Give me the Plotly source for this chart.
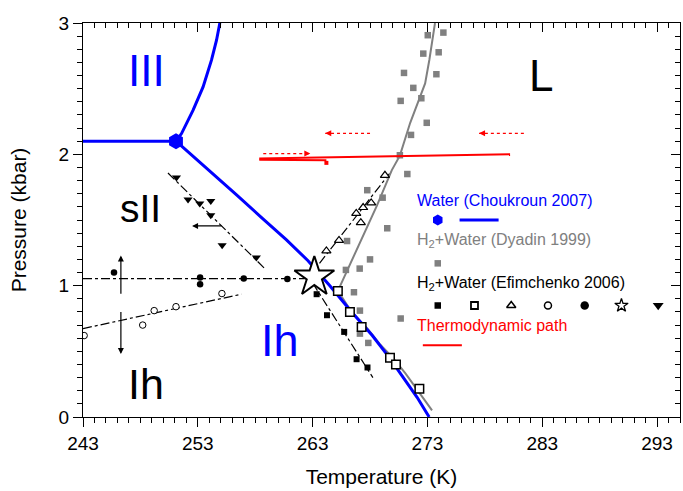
import plotly.graph_objects as go

FONT = "Liberation Sans, Arial, sans-serif"
BLUE = "#0000ff"
GRAY = "#808080"
RED = "#ff0000"

# ---------------- data ----------------
# Water (Choukroun 2007) phase boundaries
iii_sii_T = [243.0, 251.1]
iii_sii_P = [2.1, 2.1]
iii_l_T = [251.1, 251.58, 252.59, 253.46, 254.19, 254.63, 254.92]
iii_l_P = [2.1, 2.158, 2.336, 2.513, 2.717, 2.869, 3.0]
ih_l_T = [251.1, 254.1, 256.4, 258.6, 260.7, 262.6, 264.5, 266.4, 268.2, 269.7, 271.0, 272.1, 273.15]
ih_l_P = [2.1, 1.87, 1.69, 1.515, 1.35, 1.19, 1.0, 0.80, 0.62, 0.45, 0.29, 0.15, 0.0]
triple_T = [251.1]
triple_P = [2.1]

# H2+Water (Dyadin 1999)
dyadin_line_T = [273.4, 272.2, 271.1, 270.0, 268.9, 267.8, 266.4, 265.2, 266.4, 267.56, 268.6,
                 269.9, 270.6, 271.5, 272.3, 272.8, 273.17, 273.66]
dyadin_line_P = [0.05, 0.2, 0.33, 0.45, 0.55, 0.67, 0.8, 0.96, 1.19, 1.41, 1.61,
                 1.88, 1.99, 2.24, 2.43, 2.54, 2.72, 3.0]
dyadin_T = [273.03, 274.39, 272.64, 273.98, 270.96, 273.78, 271.77, 270.67, 272.47, 272.94,
            271.57, 270.6, 271.25, 267.76, 269.1, 269.5, 266.0, 268.0, 265.9, 267.1,
            266.6, 267.12, 270.67, 267.12, 267.85]
dyadin_P = [2.907, 2.927, 2.767, 2.777, 2.62, 2.61, 2.506, 2.407, 2.427, 2.24,
            2.148, 1.993, 1.85, 1.727, 1.67, 1.437, 1.34, 1.20, 1.12, 1.13,
            0.95, 0.81, 0.75, 0.635, 0.564]

# H2+Water (Efimchenko 2006)
fsq_T = [263.35, 264.25, 265.75, 266.83, 267.78]
fsq_P = [0.935, 0.775, 0.648, 0.44, 0.377]
fsq_fit_T = [263.0, 268.25]
fsq_fit_P = [1.02, 0.30]

osq_T = [265.2, 266.25, 267.27, 269.74, 270.26, 272.3]
osq_P = [0.96, 0.80, 0.685, 0.452, 0.40, 0.216]

otri_T = [264.2, 265.3, 266.8, 267.2, 267.4, 268.1, 269.3]
otri_P = [1.265, 1.345, 1.55, 1.48, 1.595, 1.63, 1.84]
otri_fit_T = [263.6, 269.7]
otri_fit_P = [1.17, 1.854]

ocirc_T = [243.1, 248.2, 249.2, 251.1, 255.1]
ocirc_P = [0.62, 0.70, 0.81, 0.84, 0.94]
ocirc_fit_T = [243.0, 256.8]
ocirc_fit_P = [0.673, 0.935]

fcirc_T = [245.7, 253.2, 253.2, 257.0, 260.8]
fcirc_P = [1.10, 1.062, 1.01, 1.054, 1.05]
fcirc_fit_T = [243.0, 262.3]
fcirc_fit_P = [1.054, 1.054]

dtri_T = [251.14, 252.15, 253.17, 254.13, 254.13, 255.12, 258.1]
dtri_P = [1.823, 1.656, 1.625, 1.645, 1.536, 1.308, 1.214]
dtri_fit_T = [250.4, 258.93]
dtri_fit_P = [1.858, 1.122]

star_T = [263.15]
star_P = [1.066]

# Thermodynamic path (red)
path_T = [258.35, 280.2]
path_P = [1.968, 2.0]
path2_T = [258.35, 264.2]
path2_P = [1.958, 1.955]
path_mark_T = [264.2]
path_mark_P = [1.935]
# dotted red arrows: (tail T, head T, P)
red_arrows = [(258.7, 262.8, 2.006), (268.0, 264.1, 2.16), (281.4, 277.5, 2.16)]
# black arrows: (tail T, tail P, head T, head P)
black_arrows = [(255.2, 1.455, 252.5, 1.455), (246.3, 0.927, 246.3, 1.23), (246.3, 0.81, 246.3, 0.48)]

# axis ticks
x_ticks = [243, 253, 263, 273, 283, 293]
y_ticks = [0, 1, 2, 3]

fig = go.Figure()


def add_line(T, P, color, width, dash="solid"):
    fig.add_trace(go.Scatter(x=T, y=P, mode="lines", line=dict(color=color, width=width, dash=dash),
                             showlegend=False, hoverinfo="skip"))


def add_markers(T, P, symbol, size, color, lcolor="black", lwidth=0):
    fig.add_trace(go.Scatter(x=T, y=P, mode="markers",
                             marker=dict(symbol=symbol, size=size, color=color,
                                         line=dict(color=lcolor, width=lwidth)),
                             showlegend=False, hoverinfo="skip"))


# fitted dash-dot lines
for T, P in [(fsq_fit_T, fsq_fit_P), (otri_fit_T, otri_fit_P), (ocirc_fit_T, ocirc_fit_P),
             (fcirc_fit_T, fcirc_fit_P), (dtri_fit_T, dtri_fit_P)]:
    add_line(T, P, "black", 1.2, "dashdot")

# Dyadin squares and line
add_markers(dyadin_T, dyadin_P, "square", 6.5, GRAY)
add_line(dyadin_line_T, dyadin_line_P, GRAY, 2)

# Water boundaries
add_line(iii_sii_T, iii_sii_P, BLUE, 3)
add_line(iii_l_T, iii_l_P, BLUE, 3)
add_line(ih_l_T, ih_l_P, BLUE, 3)
add_markers(triple_T, triple_P, "hexagon", 16, BLUE)

# red path
add_line(path_T, path_P, RED, 2)
add_line(path2_T, path2_P, RED, 2)
add_markers(path_mark_T, path_mark_P, "square", 4, RED)
for t0, t1, p in red_arrows:
    add_line([t0, t1], [p, p], RED, 1.2, "dot")

# Efimchenko markers
add_markers(fsq_T, fsq_P, "square", 6, "black")
add_markers(osq_T, osq_P, "square", 8.5, "white", "black", 1.5)
add_markers(otri_T, otri_P, "triangle-up", 8, "white", "black", 1.2)
add_markers(ocirc_T, ocirc_P, "circle", 6.5, "white", "black", 1)
add_markers(fcirc_T, fcirc_P, "circle", 6.5, "black")
add_markers(dtri_T, dtri_P, "triangle-down", 8, "black")
add_markers(star_T, star_P, "star", 30, "white", "black", 2)

annotations = []
for t0, t1, p in red_arrows:
    d = 0.5 if t1 > t0 else -0.5
    annotations.append(dict(x=t1, y=p, ax=t1 - d, ay=p, xref="x", yref="y", axref="x", ayref="y",
                            showarrow=True, arrowhead=2, arrowsize=1, arrowwidth=1.2,
                            arrowcolor=RED, text=""))
for t0, p0, t1, p1 in black_arrows:
    annotations.append(dict(x=t1, y=p1, ax=t0, ay=p0, xref="x", yref="y", axref="x", ayref="y",
                            showarrow=True, arrowhead=2, arrowsize=1, arrowwidth=1.2,
                            arrowcolor="black", text=""))

# region labels
regions = [("III", 248.5, 2.64, 44, BLUE), ("L", 282.9, 2.60, 44, "black"),
           ("sII", 248.0, 1.59, 39, "black"), ("Ih", 248.45, 0.25, 43, "black"),
           ("Ih", 260.15, 0.585, 45, BLUE)]
for txt, t, p, s, c in regions:
    annotations.append(dict(x=t, y=p, text=txt, showarrow=False, xref="x", yref="y",
                            font=dict(family=FONT, size=s, color=c)))

# legend (drawn inside the plot)
leg_x = 271.9
leg_texts = [("Water (Choukroun 2007)", 1.65, BLUE),
             ("H<sub>2</sub>+Water (Dyadin 1999)", 1.345, GRAY),
             ("H<sub>2</sub>+Water (Efimchenko 2006)", 1.017, "black"),
             ("Thermodynamic path", 0.698, RED)]
for txt, p, c in leg_texts:
    annotations.append(dict(x=leg_x, y=p, text=txt, showarrow=False, xref="x", yref="y",
                            xanchor="left", yanchor="middle",
                            font=dict(family=FONT, size=16, color=c)))

leg_sym_T = [273.9, 277.1, 280.3, 283.5, 286.7, 289.9, 293.1]
leg_sym_P = 0.849
add_markers([leg_sym_T[0]], [1.50], "hexagon", 11, BLUE)
add_line([275.8, 279.2], [1.50, 1.50], BLUE, 3)
add_markers([leg_sym_T[0]], [1.17], "square", 6.5, GRAY)
leg_syms = [("square", 6.5, "black", 0), ("square", 7, "white", 1.8), ("triangle-up", 8, "white", 1.5),
            ("circle", 7, "white", 1.5), ("circle", 8.5, "black", 0), ("star", 10, "white", 1.3),
            ("triangle-down", 9.5, "black", 0)]
for (sym, sz, col, lw), t in zip(leg_syms, leg_sym_T):
    add_markers([t], [leg_sym_P], sym, sz, col, "black", lw)
add_line([272.6, 276.0], [0.546, 0.546], RED, 2)

# invisible trace for mirrored axes
fig.add_trace(go.Scatter(x=[None], y=[None], xaxis="x2", yaxis="y2", showlegend=False))

axis_common = dict(showgrid=False, zeroline=False, showline=True, linecolor="black", linewidth=1.3)
fig.update_layout(
    width=683, height=491,
    margin=dict(l=83, r=3, t=23, b=74),
    paper_bgcolor="white", plot_bgcolor="white",
    font=dict(family=FONT, color="black"),
    annotations=annotations,
    xaxis=dict(range=[243, 295], tickvals=x_ticks, ticks="outside", ticklen=9, tickwidth=1.3,
               tickcolor="black", minor=dict(dtick=1, tick0=243, ticks="outside", ticklen=5,
                                              tickcolor="black", tickwidth=1),
               tickfont=dict(size=19, family=FONT),
               title=dict(text="Temperature (K)", font=dict(size=21, family=FONT), standoff=16),
               **axis_common),
    yaxis=dict(range=[0, 3], tickvals=y_ticks, ticks="outside", ticklen=9, tickwidth=1.3,
               tickcolor="black", minor=dict(dtick=0.1, tick0=0, ticks="outside", ticklen=5,
                                              tickcolor="black", tickwidth=1),
               tickfont=dict(size=19, family=FONT),
               title=dict(text="Pressure (kbar)", font=dict(size=21, family=FONT), standoff=26),
               **axis_common),
    xaxis2=dict(range=[243, 295], overlaying="x", side="top", anchor="y2", tickvals=x_ticks,
                ticks="inside", ticklen=9, tickwidth=1.3, tickcolor="black", showticklabels=False,
                minor=dict(dtick=1, tick0=243, ticks="inside", ticklen=5, tickcolor="black", tickwidth=1),
                **axis_common),
    yaxis2=dict(range=[0, 3], overlaying="y", side="right", anchor="x2", tickvals=y_ticks,
                ticks="inside", ticklen=9, tickwidth=1.3, tickcolor="black", showticklabels=False,
                minor=dict(dtick=0.1, tick0=0, ticks="inside", ticklen=5, tickcolor="black", tickwidth=1),
                **axis_common),
)

fig.write_html("out.html")
